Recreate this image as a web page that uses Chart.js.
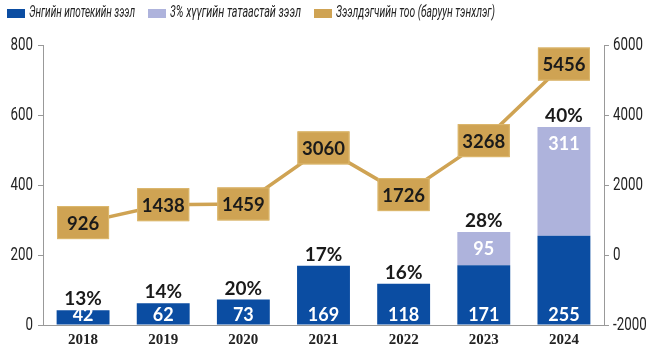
<!DOCTYPE html>
<html>
<head>
<meta charset="utf-8">
<script src="https://cdn.jsdelivr.net/npm/chart.js@4/dist/chart.umd.min.js"></script>
<style>
  html, body { margin: 0; padding: 0; background: #fff; }
  #wrap { width: 660px; height: 353px; }
</style>
</head>
<body>
<div id="wrap"><canvas id="chart" width="660" height="353"></canvas></div>
<script>
// data
const years = ['2018', '2019', '2020', '2021', '2022', '2023', '2024'];
const regularLoans = [42, 62, 73, 169, 118, 171, 255];
const subsidizedLoans = [0, 0, 0, 0, 0, 95, 311];
const borrowers = [926, 1438, 1459, 3060, 1726, 3268, 5456];
const shareLabels = ['13%', '14%', '20%', '17%', '16%', '28%', '40%'];

const legendNames = ['Энгийн ипотекийн зээл', '3% хүүгийн татаастай зээл', 'Зээлдэгчийн тоо (баруун тэнхлэг)'];

const DARK_BLUE = '#0b4da2';
const LIGHT_BLUE = '#aeb3dc';
const GOLD = '#cfa353';
const BOLD = "'Lato', 'Open Sans', sans-serif";

// condensed text: normal font squeezed horizontally
function narrowText(ctx, text, x, y, align, font, squeeze) {
  ctx.save();
  ctx.font = font;
  ctx.textBaseline = 'middle';
  ctx.textAlign = align;
  ctx.translate(x, y);
  ctx.scale(squeeze, 1);
  ctx.fillText(text, 0, 0);
  ctx.restore();
}

// legend + tick labels
const axisPlugin = {
  id: 'axisText',
  afterDraw(chart) {
    const ctx = chart.ctx;
    ctx.save();
    ctx.fillStyle = '#222';
    const yl = chart.scales.y, yr = chart.scales.y1;
    yl.ticks.forEach(t => narrowText(ctx, String(t.value), 33, yl.getPixelForValue(t.value), 'right', '18px Roboto', 0.74));
    yr.ticks.forEach(t => narrowText(ctx, String(t.value), 613, yr.getPixelForValue(t.value), 'left', '18px Roboto', 0.74));

    // legend: box x, text width in the original
    const items = [
      { x: 7, w: 106, color: DARK_BLUE, text: legendNames[0] },
      { x: 148, w: 131, color: LIGHT_BLUE, text: legendNames[1] },
      { x: 314, w: 159, color: GOLD, text: legendNames[2] }
    ];
    const font = 'italic 16px Roboto';
    items.forEach(it => {
      ctx.fillStyle = it.color;
      ctx.fillRect(it.x, 9, 18, 9);
      ctx.fillStyle = '#222';
      ctx.font = font;
      const sq = it.w / ctx.measureText(it.text).width;
      narrowText(ctx, it.text, it.x + 22, 13, 'left', font, sq);
    });
    ctx.restore();
  }
};

// labels drawn on top of bars and line points
const labelPlugin = {
  id: 'labels',
  afterDatasetsDraw(chart) {
    const ctx = chart.ctx;
    const blue = chart.getDatasetMeta(0).data;
    const light = chart.getDatasetMeta(1).data;
    const line = chart.getDatasetMeta(2).data;
    ctx.save();
    ctx.textAlign = 'center';
    ctx.textBaseline = 'middle';

    years.forEach((y, i) => {
      // value inside dark bar
      ctx.font = 'bold 18px ' + BOLD;
      ctx.fillStyle = '#fff';
      ctx.fillText(regularLoans[i], blue[i].x, blue[i].base - 9);
      // value inside light bar
      let top = blue[i].y;
      if (subsidizedLoans[i]) {
        ctx.fillText(subsidizedLoans[i], light[i].x, light[i].y + 17);
        top = light[i].y;
      }
      // share above
      ctx.fillStyle = '#1a1a1a';
      ctx.font = 'bold 19px ' + BOLD;
      ctx.fillText(shareLabels[i], blue[i].x, top - 11);
    });

    // boxes on the line
    line.forEach((p, i) => {
      const w = 52, h = 33;
      ctx.fillStyle = GOLD;
      ctx.fillRect(p.x - w / 2, p.y - h / 2, w, h);
      ctx.strokeStyle = '#dcb86e';
      ctx.lineWidth = 1;
      ctx.strokeRect(p.x - w / 2 + 0.5, p.y - h / 2 + 0.5, w - 1, h - 1);
      ctx.fillStyle = '#1a1a1a';
      ctx.font = 'bold 18.5px ' + BOLD;
      ctx.fillText(borrowers[i], p.x, p.y + 1);
    });
    ctx.restore();
  }
};

new Chart(document.getElementById('chart'), {
  type: 'bar',
  data: {
    labels: years,
    datasets: [{
      label: legendNames[0],
      data: regularLoans,
      backgroundColor: DARK_BLUE,
      yAxisID: 'y',
      stack: 'loans',
      barPercentage: 0.66,
      categoryPercentage: 1,
      order: 2
    }, {
      label: legendNames[1],
      data: subsidizedLoans,
      backgroundColor: LIGHT_BLUE,
      yAxisID: 'y',
      stack: 'loans',
      barPercentage: 0.66,
      categoryPercentage: 1,
      order: 2
    }, {
      type: 'line',
      label: legendNames[2],
      data: borrowers,
      borderColor: GOLD,
      backgroundColor: GOLD,
      borderWidth: 3.5,
      pointRadius: 0,
      yAxisID: 'y1',
      order: 1
    }]
  },
  options: {
    responsive: false,
    animation: false,
    layout: { padding: { top: 45, left: 0, right: 0, bottom: 0 } },
    plugins: {
      tooltip: { enabled: false },
      legend: { display: false }
    },
    scales: {
      x: {
        stacked: true,
        grid: { display: false, drawTicks: false },
        border: { color: '#999' },
        ticks: { color: '#222', padding: 6, font: { family: "'Liberation Serif', serif", size: 15, weight: 'bold' } },
        afterFit(s) { s.height = 28; }
      },
      y: {
        stacked: true,
        min: 0,
        max: 800,
        position: 'left',
        grid: { drawOnChartArea: false, tickLength: 5, color: '#999' },
        border: { color: '#999' },
        ticks: { stepSize: 200, display: false },
        afterFit(s) { s.width = 43; }
      },
      y1: {
        min: -2000,
        max: 6000,
        position: 'right',
        grid: { drawOnChartArea: false, tickLength: 5, color: '#999' },
        border: { color: '#999' },
        ticks: { stepSize: 2000, display: false },
        afterFit(s) { s.width = 56; }
      }
    }
  },
  plugins: [labelPlugin, axisPlugin]
});
</script>
</body>
</html>
